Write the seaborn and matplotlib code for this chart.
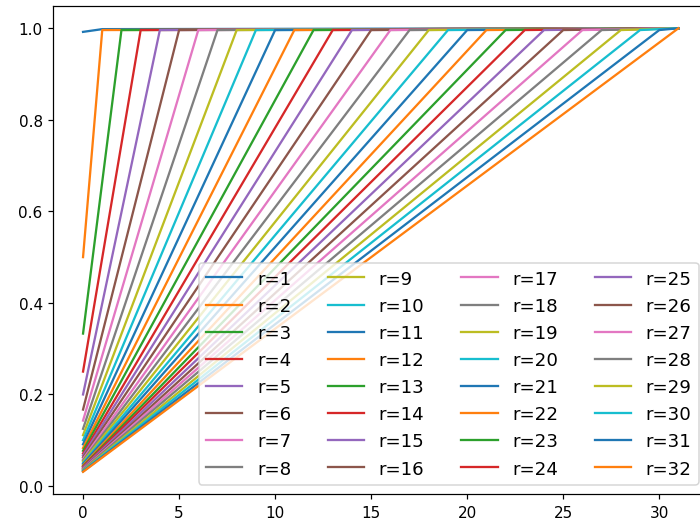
import matplotlib
matplotlib.use("Agg")
import matplotlib.pyplot as plt
import seaborn as sns
import pandas as pd

# series labels
r_values = list(range(1, 33))

# value at x=0 for each series
start_y = [0.992, 0.5, 0.333, 0.25, 0.2, 0.167, 0.143, 0.125, 0.111, 0.1,
           0.091, 0.083, 0.077, 0.071, 0.067, 0.063, 0.059, 0.056, 0.053, 0.05,
           0.048, 0.045, 0.043, 0.042, 0.04, 0.038, 0.037, 0.036, 0.034, 0.033,
           0.032, 0.031]
# x where each series reaches the plateau, and its value there
corner_x = [1] + list(range(1, 32))
corner_y = [0.998] + [0.996] * 30 + [1.0]
# final point
end_x = 31
end_y = 1.0

rows = []
for r, sy, cx, cy in zip(r_values, start_y, corner_x, corner_y):
    lab = f"r={r}"
    rows.append((lab, 0, sy))
    rows.append((lab, cx, cy))
    if cx < end_x:
        rows.append((lab, end_x, end_y))
df = pd.DataFrame(rows, columns=["r", "x", "y"])

labels = [f"r={r}" for r in r_values]
tab10 = sns.color_palette("tab10", 10)
palette = {lab: tab10[i % 10] for i, lab in enumerate(labels)}

fig = plt.figure(figsize=(6.4, 4.818), dpi=109.375)
ax = fig.add_axes([0.0761, 0.0607, 0.9357, 0.926])
sns.lineplot(data=df, x="x", y="y", hue="r", hue_order=labels, palette=palette,
             estimator=None, sort=False, ax=ax, legend=True)
leg = ax.get_legend()
handles = leg.legend_handles
texts = [t.get_text() for t in leg.get_texts()]
leg.remove()
ax.legend(handles, texts, ncol=4, loc="lower right", fontsize=12)
ax.set_xlabel("")
ax.set_ylabel("")
ax.set_xticks([0, 5, 10, 15, 20, 25, 30])
ax.set_yticks([0.0, 0.2, 0.4, 0.6, 0.8, 1.0])
fig.savefig("out.png", dpi=109.375)
